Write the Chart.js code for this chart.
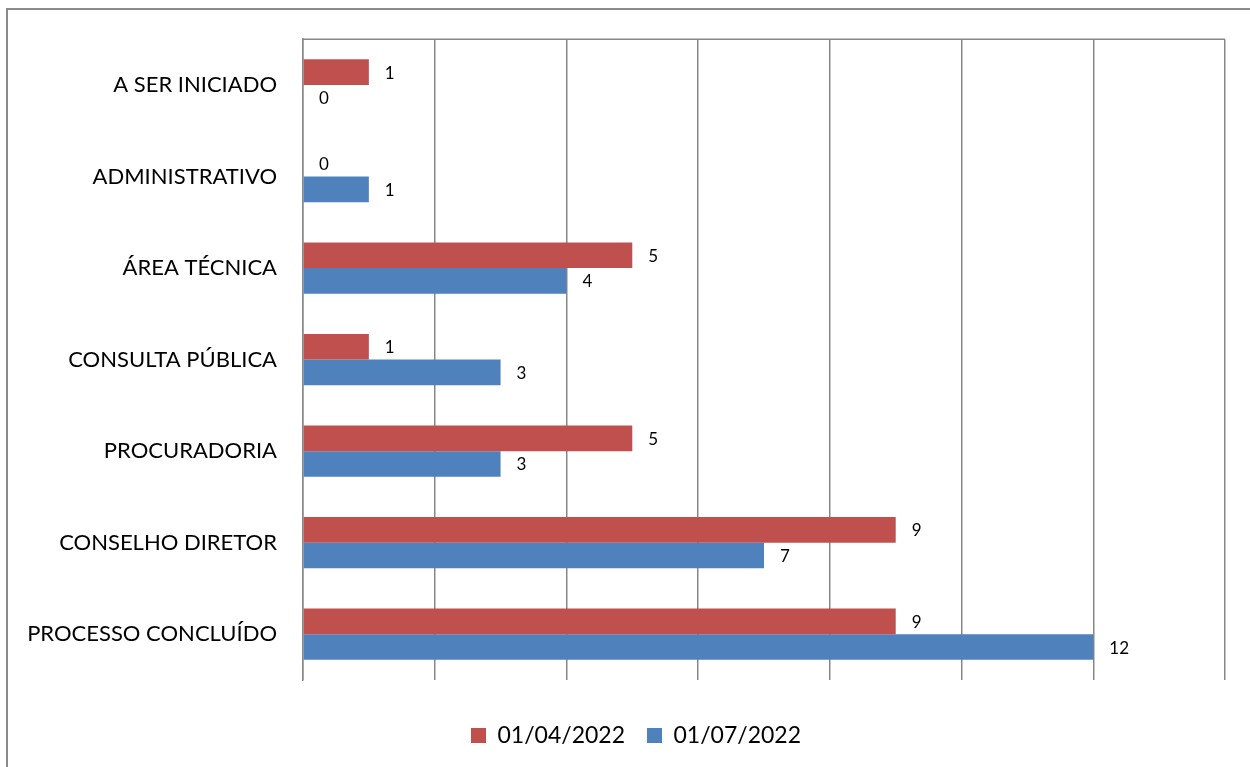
<!DOCTYPE html>
<html>
<head>
<meta charset="utf-8">
<script src="https://cdn.jsdelivr.net/npm/chart.js@4.4.1/dist/chart.umd.min.js"></script>
<style>
  html, body { margin: 0; padding: 0; background: #fff; }
  #wrap { position: relative; width: 1250px; height: 767px; }
</style>
</head>
<body>
<div id="wrap"><canvas id="chart" width="1250" height="767"></canvas></div>
<script>
// Data
const categories = ['A SER INICIADO', 'ADMINISTRATIVO', 'ÁREA TÉCNICA', 'CONSULTA PÚBLICA', 'PROCURADORIA', 'CONSELHO DIRETOR', 'PROCESSO CONCLUÍDO'];
const seriesNames = ['01/04/2022', '01/07/2022'];
const abril = [1, 0, 5, 1, 5, 9, 9];
const julho = [0, 1, 4, 3, 3, 7, 12];
const axisMin = 0, axisMax = 14, axisStep = 2;

const FONT = 'Lato, "Open Sans", sans-serif';
const gridGray = '#878787';

// Outer frame + top edge of plot area
const framePlugin = {
    id: 'frame',
    afterLayout(chart) {
        // legend is centred on the whole frame, not on the padded area
        chart.legend.left += 12;
        chart.legend.right += 12;
    },
    beforeDraw(chart) {
        const ctx = chart.ctx;
        ctx.save();
        ctx.strokeStyle = '#8a8a8a';
        ctx.lineWidth = 2;
        ctx.beginPath();
        ctx.moveTo(7, 767);
        ctx.lineTo(7, 9);
        ctx.lineTo(1250, 9);
        ctx.stroke();
        ctx.restore();
    },
    afterDatasetsDraw(chart) {
        const a = chart.chartArea;
        const ctx = chart.ctx;
        ctx.save();
        ctx.strokeStyle = gridGray;
        ctx.lineWidth = 1.5;
        ctx.beginPath();
        ctx.moveTo(a.left, a.top);
        ctx.lineTo(a.right, a.top);
        ctx.stroke();
        ctx.restore();
    }
};

// Value labels to the right of each bar
const valueLabels = {
    id: 'valueLabels',
    afterDatasetsDraw(chart) {
        const ctx = chart.ctx;
        ctx.save();
        ctx.font = '17px ' + FONT;
        ctx.fillStyle = '#000';
        ctx.textAlign = 'left';
        ctx.textBaseline = 'middle';
        chart.data.datasets.forEach((ds, i) => {
            chart.getDatasetMeta(i).data.forEach((bar, j) => {
                ctx.fillText(String(ds.data[j]), bar.x + 16, bar.y + 1);
            });
        });
        ctx.restore();
    }
};

new Chart(document.getElementById('chart'), {
    type: 'bar',
    data: {
        labels: categories,
        datasets: [
            { label: seriesNames[0], data: abril, backgroundColor: '#C0504D' },
            { label: seriesNames[1], data: julho, backgroundColor: '#4F81BD' }
        ]
    },
    options: {
        indexAxis: 'y',
        responsive: false,
        animation: false,
        devicePixelRatio: 1,
        layout: { padding: { left: 23, right: 25, top: 38, bottom: 10 } },
        datasets: { bar: { barPercentage: 1, categoryPercentage: 0.56 } },
        scales: {
            x: {
                min: axisMin,
                max: axisMax,
                ticks: { stepSize: axisStep, display: false },
                grid: { color: gridGray, lineWidth: 1.5, drawTicks: false },
                border: { display: false },
                afterFit(s) { s.height = 22; }
            },
            y: {
                grid: { display: false, drawTicks: false },
                border: { display: true, color: gridGray, width: 1.5 },
                ticks: { color: '#000', font: { family: FONT, size: 22 }, padding: 26 },
                afterFit(s) { s.width = 280; }
            }
        },
        plugins: {
            legend: {
                position: 'bottom',
                labels: {
                    color: '#000',
                    font: { family: FONT, size: 23 },
                    boxWidth: 15,
                    boxHeight: 15,
                    padding: 22
                }
            },
            tooltip: { enabled: false }
        }
    },
    plugins: [framePlugin, valueLabels]
});
</script>
</body>
</html>
